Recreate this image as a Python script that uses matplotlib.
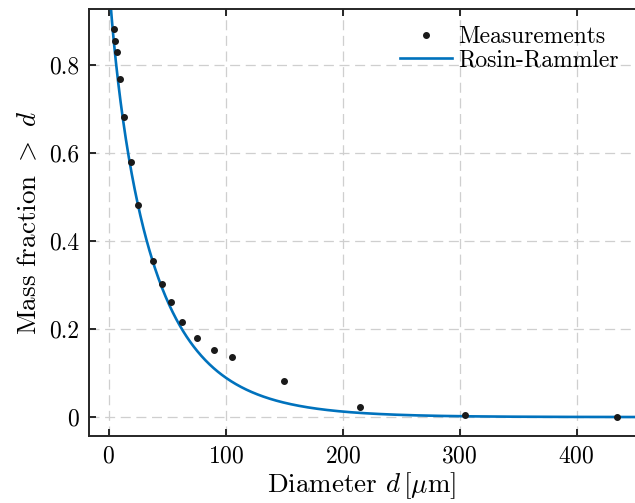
import numpy as np
import matplotlib
matplotlib.use('Agg')
import matplotlib.pyplot as plt
from matplotlib.ticker import FuncFormatter

# === Dados ===
diametro = [4.5, 5.4, 6.6, 9.4, 12.8, 18.6, 24.8, 37.3, 45, 52.7, 62.4, 75, 90, 105, 150, 215, 305, 435]
fracao = [0.882, 0.855, 0.829, 0.769, 0.682, 0.580, 0.483, 0.354, 0.302, 0.261, 0.217, 0.180,
          0.153, 0.136, 0.083, 0.022, 0.004, 0.0]

# parametros do ajuste Rosin-Rammler
d0 = 35.9
n_rr = 0.86

plt.rcParams['font.family'] = 'cmr10'
plt.rcParams['mathtext.fontset'] = 'cm'
plt.rcParams['axes.formatter.use_mathtext'] = True
plt.rcParams['font.size'] = 17

fig = plt.figure(figsize=(6.35, 5.03), dpi=100)
ax = fig.add_axes([0.1402, 0.1332, 0.8598, 0.8483])

d = np.linspace(0, 450, 900)
rr = np.exp(-(d / d0) ** n_rr)

ax.plot(diametro, fracao, '.', color='#1a1a1a', markersize=8, label='Measurements', zorder=3)
ax.plot(d, rr, color='#0072BD', linewidth=1.9, label='Rosin-Rammler', zorder=2)

ax.set_xlim(-17, 450)
ax.set_ylim(-0.043, 0.927)
ax.set_xticks([0, 100, 200, 300, 400])
ax.set_yticks([0, 0.2, 0.4, 0.6, 0.8])
ax.yaxis.set_major_formatter(FuncFormatter(lambda v, p: f'{v:g}'))

ax.grid(True, linestyle=(0, (8, 4.5)), color='#cfcfcf', linewidth=0.9)
ax.set_axisbelow(True)

for s in ['left', 'bottom', 'top']:
    ax.spines[s].set_color('#262626')
    ax.spines[s].set_linewidth(1.4)
ax.spines['right'].set_visible(False)

ax.tick_params(direction='in', length=5, width=1.4, color='#262626', top=True,
               labelsize=17, pad=7)

ax.set_xlabel(r'Diameter $d\,[\mu$m$]$', fontsize=19.5, labelpad=2)
ax.set_ylabel(r'Mass fraction $>$ $d$', fontsize=19.5, labelpad=6)

ax.legend(loc='upper right', frameon=False, fontsize=17, handlelength=2.2,
          handletextpad=0.25, labelspacing=0.05, borderaxespad=0.3)

fig.savefig('out.png', dpi=100)
